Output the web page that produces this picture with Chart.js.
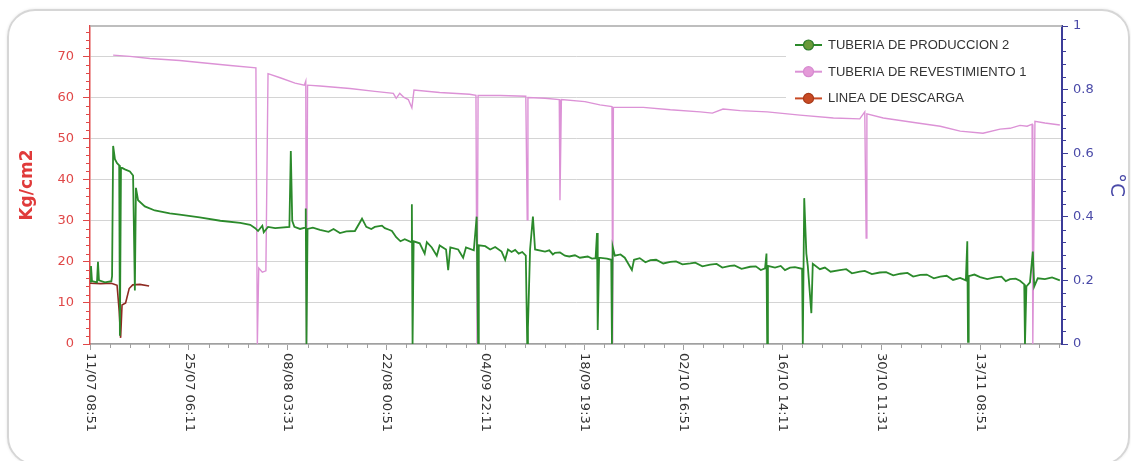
<!DOCTYPE html>
<html><head><meta charset="utf-8">
<script src="https://cdn.jsdelivr.net/npm/chart.js@4.4.0/dist/chart.umd.min.js"></script>
<style>
html,body{margin:0;padding:0;background:#fff;width:1131px;height:461px;overflow:hidden}
#frame{position:absolute;left:7px;top:9px;width:1123px;height:456px;border:2px solid #d6d6d6;border-radius:28px;box-sizing:border-box;box-shadow:0 0 3px rgba(0,0,0,0.10)}
#wrap{position:absolute;left:0;top:0;width:1131px;height:461px}
</style></head><body>
<div id="frame"></div>
<div id="wrap"><canvas id="c" width="1131" height="461"></canvas></div>
<script>
// ---- data (x = days since 11/07 08:51) ----
const seriesNames = ['TUBERIA DE PRODUCCION 2','TUBERIA DE REVESTIMIENTO 1','LINEA DE DESCARGA'];
const tickLabels = ['11/07 08:51','25/07 06:11','08/08 03:31','22/08 00:51','04/09 22:11','18/09 19:31','02/10 16:51','16/10 14:11','30/10 11:31','13/11 08:51'];
const leftTitle = 'Kg/cm2';
const rightTitle = '°C';
const xMaxDays = 136.5;

const prodT = [0,0.14,0.28,0.98,1.12,1.26,2.1,3.0,3.1,3.25,3.5,3.8,4.1,4.2,4.35,4.9,5.6,6.05,6.3,6.45,6.75,7.7,9.1,11.2,12.6,15.4,18.3,21.1,22.5,23.2,23.6,24.2,24.4,25.0,26.0,28.0,28.2,28.4,28.7,29.5,30.2,30.3,30.4,30.55,31.3,32.3,33.5,34.2,35.1,36.0,37.2,38.2,38.8,39.5,40.0,41.0,41.4,42.0,42.4,43.0,43.6,44.2,45.1,45.2,45.3,45.45,46.3,47.0,47.3,48.0,48.7,49.1,50.0,50.3,50.6,51.7,52.4,52.8,53.9,54.3,54.5,54.6,55.5,56.2,56.9,57.8,58.3,58.7,59.2,59.7,60.2,60.7,61.2,61.4,61.5,61.8,62.2,62.5,63.9,64.5,65.0,65.3,66.0,66.7,67.3,68.1,68.8,69.9,70.5,71.0,71.2,71.3,71.5,72.6,73.2,73.3,73.4,73.7,74.5,75.1,76.1,76.4,77.2,78.0,78.7,79.5,80.5,81.5,82.3,83.2,84.3,85.0,86.0,87.1,88.0,88.8,89.9,90.5,91.5,92.7,93.5,94.2,94.8,95.0,95.1,95.2,96.2,97.0,97.6,98.3,99.0,100.0,100.1,100.3,100.6,100.8,101.3,101.5,102.5,103.2,104.0,105.3,106.2,107.0,108.1,108.8,109.8,110.9,111.8,112.8,113.8,114.8,115.6,116.6,117.5,118.5,119.4,120.3,121.2,122.2,123.0,123.2,123.3,123.4,124.2,125.0,126.0,127.1,128.0,128.6,129.2,130.0,130.6,131.2,131.3,131.5,132.0,132.4,132.6,133.1,134.1,135.1,136.2];
const prodV = [15.2,19.0,15.3,15.0,20.0,15.5,15.0,15.3,16.5,48.2,45,44,43.5,2,43,42.5,42,41,13,38,35,33.5,32.5,31.8,31.5,30.8,30.0,29.5,29,28.2,27.5,28.8,27.2,28.5,28.2,28.5,47,30,28.5,28.0,28.3,33,0,28,28.3,27.8,27.3,28.0,27,27.4,27.5,30.5,28.5,28.0,28.5,28.8,28.2,27.8,27.5,26,25.0,25.5,24.8,34,0,25,24.5,22,24.8,23.5,21.5,24,23,18,23.5,23,21,23.5,22.8,31,0,24,23.8,23.0,23.6,22.5,20.5,23,22.4,22.9,22.0,22.4,21.5,0,4,23,31,23,22.5,22.8,21.8,22.2,22.3,21.5,21.3,21.6,21.0,21.3,20.8,20.9,27,3.4,21,20.8,20.5,0,23.7,21.5,21.8,21,18,20.5,20.9,19.9,20.4,20.5,19.6,20.0,20.1,19.4,19.6,19.8,18.9,19.3,19.5,18.6,19.0,19.1,18.3,18.8,18.9,18.0,18.4,22,0,19,18.6,19.0,18.0,18.6,18.7,18.3,0,35.5,22,19,7.5,19.5,18.2,18.6,17.6,18.0,18.2,17.2,17.6,17.8,17.0,17.4,17.5,16.7,17.1,17.3,16.4,16.8,16.9,16.0,16.4,16.6,15.6,16.1,15.5,25,0.5,16.5,16.9,16.3,15.8,16.2,16.4,15.3,15.8,15.9,15.4,14.5,0,14,15,22.5,14,16,15.8,16.2,15.5];

const revT = [3.25,5.6,8.4,12.6,15.4,19.7,23.3,23.5,23.7,24.2,24.7,25.0,26.7,28.8,30.1,30.3,30.4,30.55,32.3,36.5,40.0,42.6,43.0,43.5,44.1,44.7,45.2,45.5,49.1,53.3,54.2,54.35,54.5,57.6,61.2,61.4,61.5,63.9,65.9,66.0,66.2,69.5,71.6,73.3,73.4,73.5,77.7,81.5,85.7,87.4,88.9,91.3,95.1,99.7,104.4,108.1,108.8,109.0,109.1,111.4,116.2,119.4,122.2,125.4,127.8,129.2,130.6,131.6,132.3,132.4,132.7,134.1,136.2];
const revV = [70.3,70.0,69.5,69.0,68.5,67.8,67.2,0,18.5,17.5,17.8,65.8,64.8,63.5,63,64,0,63,62.8,62.2,61.5,61,59.8,61,60,59.5,57.5,61.8,61.2,60.8,60.5,0,60.5,60.5,60.3,30.2,60.0,59.8,59.5,35,59.5,59,58.2,57.8,0,57.6,57.6,57,56.5,56.2,57.2,56.8,56.5,55.7,55,54.8,56.5,25.8,56,55,53.8,53,51.8,51.3,52.3,52.5,53.2,53,53.5,0,54.2,53.8,53.3];

const descT = [0,1.5,3.0,3.8,4.1,4.3,4.5,5.0,5.5,6.0,7.0,8.3];
const descV = [14.8,14.7,14.8,14.3,8,1.5,9.5,10,13.5,14.4,14.5,14.1];

// ---- helpers ----
function parseLabel(s){ // "dd/mm hh:mm"
  const [d,t]=s.split(' '); const [dd,mm]=d.split('/').map(Number); const [hh,mi]=t.split(':').map(Number);
  return Date.UTC(2013,mm-1,dd,hh,mi);
}
const t0 = parseLabel(tickLabels[0]);
const tickDays = tickLabels.map(l => (parseLabel(l)-t0)/86400000);
const pts = (T,V) => T.map((t,i)=>({x:t,y:V[i]}));

const colors = {prod:'#2b8a2b', rev:'#dc92d6', desc:'#8e2a22'};
const legendMarks = [
  {line:'#2b8a2b', fill:'#6a9a3a', edge:'#2b7a2b'},
  {line:'#dc92d6', fill:'#e49ad8', edge:'#d68ad0'},
  {line:'#c84a24', fill:'#c84a24', edge:'#a83a1a'}
];

const extras = {
  id:'extras',
  afterDraw(chart){
    const {ctx, chartArea:a, scales} = chart;
    const x = scales.x, y = scales.y, y2 = scales.y2;
    ctx.save();
    // top border
    ctx.strokeStyle='#a8a8a8'; ctx.lineWidth=1.5;
    ctx.beginPath(); ctx.moveTo(a.left,a.top); ctx.lineTo(a.right,a.top); ctx.stroke();
    // left minor ticks
    ctx.strokeStyle='#e04848'; ctx.lineWidth=1;
    for(let v=2; v<y.max; v+=2){ if(v%10===0) continue; const py=Math.round(y.getPixelForValue(v))+0.5;
      ctx.beginPath(); ctx.moveTo(a.left-4,py); ctx.lineTo(a.left,py); ctx.stroke(); }
    // right minor ticks
    ctx.strokeStyle='#3c3c98';
    for(let k=1; k<25; k++){ if(k%5===0) continue; const py=Math.round(y2.getPixelForValue(k*0.04))+0.5;
      ctx.beginPath(); ctx.moveTo(a.right,py); ctx.lineTo(a.right+4,py); ctx.stroke(); }
    // x minor ticks
    ctx.strokeStyle='#a0a0a0';
    const step=(tickDays[1]-tickDays[0])/5;
    for(let k=1; k*step<x.max; k++){ if(k%5===0) continue; const px=Math.round(x.getPixelForValue(k*step))+0.5;
      ctx.beginPath(); ctx.moveTo(px,a.bottom); ctx.lineTo(px,a.bottom+4); ctx.stroke(); }
    // x labels rotated clockwise
    ctx.fillStyle='#333'; ctx.font='13px "DejaVu Sans"'; ctx.textAlign='left'; ctx.textBaseline='middle';
    x.ticks.forEach((t,i)=>{ const px=x.getPixelForValue(t.value);
      ctx.save(); ctx.translate(px, a.bottom+9); ctx.rotate(Math.PI/2); ctx.fillText(tickLabels[i],0,0); ctx.restore(); });
    // legend
    ctx.fillStyle='#fff'; ctx.fillRect(786, a.top+1.5, a.right-787, 78);
    ctx.font='13px "Liberation Sans"'; ctx.textBaseline='middle';
    chart.data.datasets.forEach((ds,i)=>{
      const cy = 45 + i*26.7, m = legendMarks[i];
      ctx.strokeStyle=m.line; ctx.lineWidth=2;
      ctx.beginPath(); ctx.moveTo(795,cy); ctx.lineTo(822,cy); ctx.stroke();
      ctx.beginPath(); ctx.arc(808.5,cy,5,0,Math.PI*2); ctx.fillStyle=m.fill; ctx.fill();
      ctx.lineWidth=1.2; ctx.strokeStyle=m.edge; ctx.stroke();
      ctx.fillStyle='#333'; ctx.fillText(ds.label, 828, cy+0.5);
    });
    ctx.restore();
  }
};

new Chart(document.getElementById('c'), {
  type:'line',
  data:{ datasets:[
    {label:seriesNames[0], data:pts(prodT,prodV), borderColor:colors.prod, borderWidth:1.8, pointRadius:0, tension:0, yAxisID:'y'},
    {label:seriesNames[1], data:pts(revT,revV), borderColor:colors.rev, borderWidth:1.4, pointRadius:0, tension:0, yAxisID:'y'},
    {label:seriesNames[2], data:pts(descT,descV), borderColor:colors.desc, borderWidth:1.6, pointRadius:0, tension:0, yAxisID:'y'}
  ]},
  options:{
    responsive:false, animation:false, events:[],
    layout:{padding:{top:26,left:0,right:0,bottom:0}},
    plugins:{legend:{display:false}, tooltip:{enabled:false}},
    scales:{
      x:{type:'linear', min:0, max:xMaxDays,
        afterBuildTicks:s=>{ s.ticks = tickDays.map(v=>({value:v})); },
        afterFit:s=>{ s.height = 117; },
        ticks:{display:false},
        grid:{drawOnChartArea:false, tickLength:6, tickColor:'#a0a0a0', color:'#a0a0a0'},
        border:{color:'#a0a0a0', width:1.5}
      },
      y:{type:'linear', position:'left', min:0, max:77.4,
        afterBuildTicks:s=>{ s.ticks = [0,10,20,30,40,50,60,70].map(v=>({value:v})); },
        afterFit:s=>{ s.width = 90; },
        ticks:{color:'#e04848', font:{family:'DejaVu Sans', size:13}, padding:9},
        grid:{color:'#d4d4d4', lineWidth:1, tickLength:7, tickColor:'#e04848'},
        border:{color:'#e04848', width:1.5},
        title:{display:true, text:leftTitle, color:'#e03a3a', font:{family:'DejaVu Sans', size:17, weight:'bold'}, padding:{top:17,bottom:0}}
      },
      y2:{type:'linear', position:'right', min:0, max:1,
        ticks:{stepSize:0.2, color:'#4a4aa8', font:{family:'DejaVu Sans', size:13}, padding:5,
          callback:v=>String(Math.round(v*10)/10)},
        afterFit:s=>{ s.width = 69; },
        grid:{drawOnChartArea:false, tickLength:6, tickColor:'#3c3c98'},
        border:{color:'#3c3c98', width:2},
        title:{display:true, text:rightTitle, color:'#4a4aa8', font:{family:'DejaVu Sans', size:20}, padding:{top:3,bottom:0}}
      }
    }
  },
  plugins:[extras]
});
</script>
</body></html>
